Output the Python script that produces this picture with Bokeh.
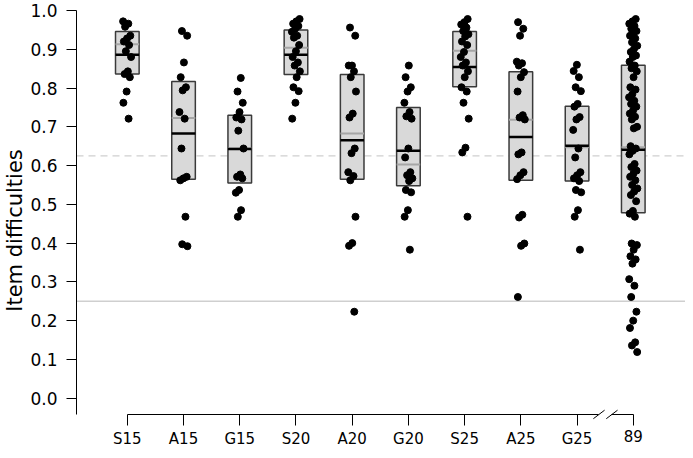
import numpy as np
from bokeh.plotting import figure
from bokeh.models import Range1d, LinearAxis, FixedTicker, Span, ColumnDataSource
from bokeh.embed import file_html
from bokeh.resources import INLINE

# ---------------- data ----------------
categories = ["S15", "A15", "G15", "S20", "A20", "G20", "S25", "A25", "G25", "89"]

s15 = [0.972, 0.966, 0.958, 0.935, 0.928, 0.920, 0.911, 0.895, 0.880, 0.843, 0.836, 0.828, 0.791, 0.762, 0.721]
a15 = [0.947, 0.935, 0.866, 0.828, 0.802, 0.794, 0.738, 0.721, 0.644, 0.571, 0.567, 0.562, 0.468, 0.397, 0.392]
g15 = [0.826, 0.791, 0.762, 0.738, 0.724, 0.719, 0.690, 0.644, 0.577, 0.571, 0.567, 0.537, 0.530, 0.485, 0.468]
s20 = [0.978, 0.972, 0.966, 0.960, 0.953, 0.945, 0.935, 0.930, 0.911, 0.895, 0.880, 0.866, 0.858, 0.843, 0.828,
       0.802, 0.792, 0.762, 0.721]
a20 = [0.956, 0.935, 0.858, 0.858, 0.843, 0.828, 0.791, 0.734, 0.724, 0.644, 0.632, 0.583, 0.573, 0.562, 0.468,
       0.400, 0.393, 0.223]
g20 = [0.858, 0.828, 0.802, 0.791, 0.762, 0.738, 0.727, 0.721, 0.644, 0.621, 0.583, 0.575, 0.567, 0.560, 0.537,
       0.531, 0.485, 0.468, 0.383]
s25 = [0.978, 0.970, 0.964, 0.956, 0.947, 0.939, 0.933, 0.920, 0.911, 0.893, 0.880, 0.866, 0.858, 0.843, 0.828,
       0.802, 0.791, 0.762, 0.721, 0.646, 0.634, 0.468]
a25 = [0.970, 0.953, 0.935, 0.868, 0.864, 0.858, 0.841, 0.828, 0.791, 0.730, 0.724, 0.719, 0.634, 0.629, 0.583,
       0.575, 0.565, 0.473, 0.466, 0.399, 0.393, 0.261]
g25 = [0.860, 0.844, 0.828, 0.802, 0.792, 0.759, 0.752, 0.725, 0.719, 0.692, 0.644, 0.621, 0.583, 0.575, 0.567,
       0.560, 0.537, 0.531, 0.485, 0.468, 0.383]
all89 = [0.978, 0.972, 0.966, 0.960, 0.953, 0.947, 0.941, 0.935, 0.928, 0.918, 0.909, 0.901, 0.893, 0.884, 0.880,
         0.868, 0.858, 0.851, 0.843, 0.828, 0.802, 0.796, 0.784, 0.776, 0.767, 0.759, 0.752, 0.742, 0.734, 0.726,
         0.719, 0.700, 0.696, 0.650, 0.644, 0.638, 0.629, 0.604, 0.596, 0.587, 0.579, 0.571, 0.562, 0.550, 0.541,
         0.533, 0.524, 0.508, 0.483, 0.476, 0.468, 0.399, 0.395, 0.383, 0.366, 0.358, 0.347, 0.307, 0.290, 0.261,
         0.223, 0.200, 0.181, 0.144, 0.136, 0.119]
groups = [s15, a15, g15, s20, a20, g20, s25, a25, g25, all89]

q1 = [0.836, 0.565, 0.555, 0.835, 0.565, 0.548, 0.803, 0.562, 0.560, 0.478]
q3 = [0.946, 0.817, 0.730, 0.950, 0.835, 0.750, 0.946, 0.842, 0.753, 0.859]
means = [0.886, 0.683, 0.643, 0.886, 0.665, 0.638, 0.854, 0.674, 0.651, 0.641]
medians = [0.913, 0.723, 0.644, 0.904, 0.683, 0.603, 0.896, 0.718, 0.647, 0.647]

y_ticks = [0.0, 0.1, 0.2, 0.3, 0.4, 0.5, 0.6, 0.7, 0.8, 0.9, 1.0]
y_tick_labels = ["0.0", "0.1", "0.2", "0.3", "0.4", "0.5", "0.6", "0.7", "0.8", "0.9", "1.0"]
chance_level = 0.25
reference_level = 0.625

# ---------------- layout constants ----------------
FONT = "DejaVu Sans"
x_lo, x_hi = -0.904, 9.929
y_top = 1.0
y_bottom = -0.135
axis_y = -0.042
box_w = 0.42
break_a, break_b = 8.39, 8.62

idx = np.arange(len(categories))

p = figure(width=685, height=450, output_backend="svg", toolbar_location=None,
           x_range=Range1d(x_lo, x_hi), y_range=Range1d(y_bottom, y_top),
           x_axis_type=None, y_axis_type=None,
           min_border_left=74, min_border_right=0, min_border_top=10, min_border_bottom=0)
p.outline_line_color = None
p.background_fill_color = "white"
p.border_fill_color = "white"

# reference lines
p.add_layout(Span(location=reference_level, dimension="width", line_color="#cfcfcf",
                  line_dash="7 5", line_width=1.3, level="underlay"))
p.add_layout(Span(location=chance_level, dimension="width", line_color="#cfcfcf",
                  line_width=1.3, level="underlay"))

# boxes
box_src = ColumnDataSource(dict(x=idx, q1=q1, q3=q3, mean=means, median=medians,
                                x0=idx - box_w / 2, x1=idx + box_w / 2))
p.vbar(x="x", width=box_w, bottom="q1", top="q3", source=box_src,
       fill_color="#d9d9d9", line_color="#3a3a3a", line_width=1.5)
p.segment(x0="x0", x1="x1", y0="median", y1="median", source=box_src,
          line_color="#a6a6a6", line_width=2)
p.segment(x0="x0", x1="x1", y0="mean", y1="mean", source=box_src,
          line_color="black", line_width=2.5)

# points, with a deterministic small horizontal spread
px, py = [], []
for i, vals in enumerate(groups):
    k = np.arange(len(vals))
    spread = ((k * 0.6180339887 + 0.31 * i) % 1.0 - 0.5) * 0.15
    px.extend(list(i + spread))
    py.extend(vals)
p.scatter(x=px, y=py, size=7, marker="circle", fill_color="black", line_color="black")

# y axis
yaxis = LinearAxis(ticker=FixedTicker(ticks=y_ticks),
                   major_label_overrides={t: l for t, l in zip(y_ticks, y_tick_labels)},
                   bounds=(axis_y, y_top),
                   axis_label="Item difficulties",
                   axis_label_text_font=FONT, axis_label_text_font_size="21px",
                   axis_label_text_font_style="normal", axis_label_text_color="black",
                   axis_label_standoff=0,
                   major_label_text_font=FONT, major_label_text_font_size="17px",
                   major_label_text_color="black", major_label_standoff=9,
                   major_tick_out=10, major_tick_in=0, minor_tick_out=0, minor_tick_in=0,
                   axis_line_color="black", major_tick_line_color="black")
p.add_layout(yaxis, "left")

# x axis, split by a break before the last category
def make_xaxis(ticks, bounds):
    return LinearAxis(ticker=FixedTicker(ticks=ticks),
                      major_label_overrides={t: categories[t] for t in ticks},
                      fixed_location=axis_y, bounds=bounds,
                      major_label_text_font=FONT, major_label_text_font_size="15px",
                      major_label_text_color="black", major_label_standoff=5,
                      major_tick_out=11, major_tick_in=0, minor_tick_out=0, minor_tick_in=0,
                      axis_line_color="black", major_tick_line_color="black")

p.add_layout(make_xaxis(list(range(len(categories) - 1)), (0, break_a)), "below")
p.add_layout(make_xaxis([len(categories) - 1], (break_b, len(categories) - 1)), "below")

# break marks
dx, dy = 0.1, 0.011
p.segment(x0=[break_a - dx, break_b - dx], x1=[break_a + dx, break_b + dx],
          y0=[axis_y - dy, axis_y - dy], y1=[axis_y + dy, axis_y + dy],
          line_color="black", line_width=1)

open("out.html", "w").write(file_html(p, INLINE))
